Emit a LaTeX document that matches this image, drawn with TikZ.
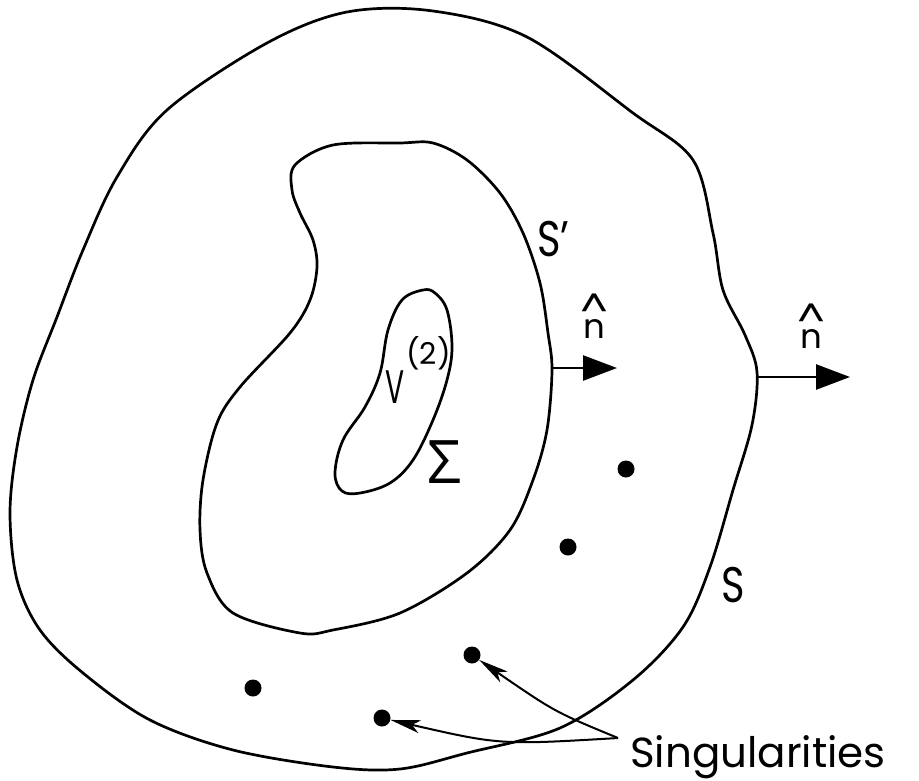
\documentclass[tikz,border=0pt]{standalone}
\usepackage{graphicx}
\usepackage{fontspec}
\setmainfont{Poppins}
\newfontfamily\greekfont{Open Sans}
\usetikzlibrary{arrows.meta}
\newcommand\myfs[1]{\fontsize{#1}{#1}\selectfont}
\newcommand\nhat{\setbox0\hbox{n}\hbox{\rlap{\hbox to\wd0{\hss\raisebox{21pt}{\scalebox{1.3}[1]{\char`\^}}\hss}}n}}
\begin{document}
\begin{tikzpicture}[x=1pt,y=-1pt,
  curve/.style={line width=2.7pt, line join=round},
  sing/.style={circle, fill=black, inner sep=0pt, minimum size=17pt},
  lbl/.style={inner sep=0pt, anchor=base west},
  normal/.style={line width=2.6pt, -{Triangle[length=34pt,width=25pt]}},
  pointer/.style={line width=2pt, -{Stealth[length=30pt,width=13pt,inset=8pt]}}]
\useasboundingbox (0,0) rectangle (919,780);
% outer surface S
\draw[curve] plot[smooth cycle, tension=0.55] coordinates {
 (347,12) (433,11) (527,37) (633,113) (693,160) (713,233) (723,290) (745,335)
 (757,372) (752,425) (733,490) (710,567) (683,627) (633,680) (560,728) (467,753)
 (400,769) (333,767) (233,750) (150,720) (83,673) (40,630) (17,580) (10,513)
 (17,447) (33,380) (57,317) (83,250) (117,177) (167,110) (267,43)};
% inner surface S'
\draw[curve] plot[smooth cycle, tension=0.55] coordinates {
 (333,145) (400,143) (433,143) (467,160) (500,193) (523,233) (540,283) (548,333)
 (552,370) (547,430) (533,480) (510,530) (467,573) (400,613) (333,630) (300,633)
 (233,613) (207,573) (200,530) (203,480) (217,423) (240,387) (290,333) (310,300)
 (317,267) (313,240) (300,213) (292,190) (295,165)};
% small region Sigma
\draw[curve] plot[smooth cycle, tension=0.6] coordinates {
 (423,290) (402,300) (388,330) (380,373) (365,407) (343,440) (335,473) (342,491)
 (360,493) (390,483) (413,460) (433,420) (447,380) (452,347) (447,310) (435,293)};
% normals
\coordinate (p1) at (552,368);
\coordinate (q1) at (617,368);
\coordinate (p2) at (757,377);
\coordinate (q2) at (850,377);
\draw[normal] (p1) -- (q1);
\draw[normal] (p2) -- (q2);
\node[lbl] (n1) at (583,338) {\myfs{34}\nhat};
\node[lbl] (n2) at (800,348) {\myfs{34}\nhat};
% labels
\node[lbl] (Sp) at (537,256) {\myfs{50}\scalebox{0.8}[1]{S'}};
\node[lbl] (S) at (721,602) {\myfs{50}\scalebox{0.8}[1]{S}};
\node[lbl] (V) at (385,403) {\myfs{47}\scalebox{0.6}[1]{V}};
\node[lbl] (V2) at (406,364) {\myfs{30}(2)};
\node[lbl] (Sig) at (427,483) {\greekfont\myfs{60}Σ};
% singularities
\node[sing] (d1) at (626,469) {};
\node[sing] (d2) at (568,547) {};
\node[sing] (d3) at (472,655) {};
\node[sing] (d4) at (253,688) {};
\node[sing] (d5) at (382,718) {};
\node[lbl] (txt) at (630,767) {\myfs{42}Singularities};
\coordinate (conv) at (618,738);
\draw[pointer] (conv) .. controls (555,712) .. (d3);
\draw[pointer] (conv) .. controls (500,745) .. (d5);
\end{tikzpicture}
\end{document}
